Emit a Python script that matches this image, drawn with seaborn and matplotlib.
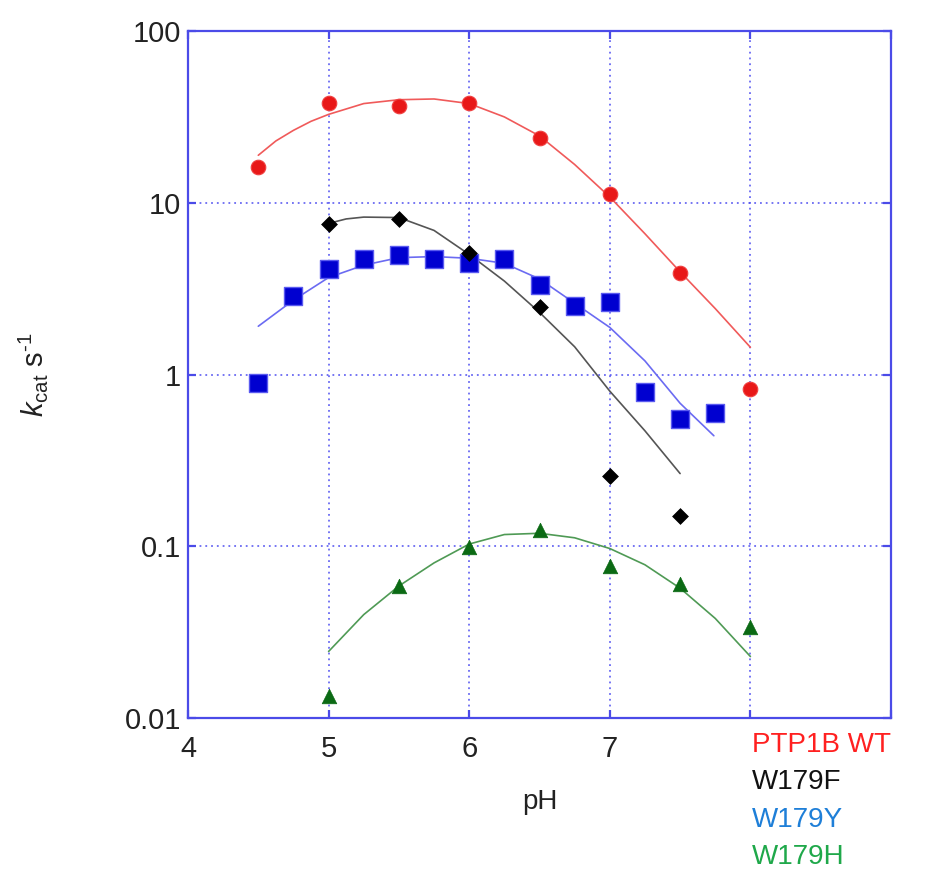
import matplotlib
matplotlib.use("Agg")
import matplotlib.pyplot as plt
import matplotlib.ticker as mticker
import seaborn as sns
import pandas as pd

# ---- data ----
ph_wt = [4.5, 5.0, 5.5, 6.0, 6.5, 7.0, 7.5, 8.0]
kcat_wt = [16.1, 38.1, 36.7, 38.3, 23.9, 11.2, 3.9, 0.82]

ph_f = [5.0, 5.5, 6.0, 6.5, 7.0, 7.5]
kcat_f = [7.55, 8.0, 5.1, 2.48, 0.256, 0.151]

ph_y = [4.5, 4.75, 5.0, 5.25, 5.5, 5.75, 6.0, 6.25, 6.5, 6.75, 7.0, 7.25, 7.5, 7.75]
kcat_y = [0.89, 2.86, 4.14, 4.70, 4.98, 4.70, 4.43, 4.72, 3.31, 2.52, 2.63, 0.79, 0.55, 0.60]

ph_h = [5.0, 5.5, 6.0, 6.5, 7.0, 7.5, 8.0]
kcat_h = [0.0134, 0.0587, 0.099, 0.124, 0.077, 0.060, 0.034]

# fitted curves
fit_wt_ph = [4.5, 4.625, 4.75, 4.875, 5.0, 5.25, 5.5, 5.75, 6.0, 6.25, 6.5, 6.75, 7.0, 7.25, 7.5, 7.75, 8.0]
fit_wt = [18.9, 22.9, 26.4, 29.8, 32.7, 37.8, 39.8, 40.2, 37.8, 31.6, 24.5, 16.7, 10.8, 6.6, 3.96, 2.42, 1.44]

fit_f_ph = [5.0, 5.125, 5.25, 5.5, 5.75, 6.0, 6.25, 6.5, 6.75, 7.0, 7.25, 7.5]
fit_f = [7.58, 8.05, 8.25, 8.2, 6.9, 5.0, 3.5, 2.3, 1.45, 0.80, 0.47, 0.265]

fit_y_ph = [4.5, 4.75, 5.0, 5.25, 5.5, 5.75, 6.0, 6.25, 6.5, 6.75, 7.0, 7.25, 7.5, 7.74]
fit_y = [1.91, 2.71, 3.67, 4.33, 4.79, 4.86, 4.75, 4.44, 3.6, 2.6, 1.88, 1.2, 0.68, 0.44]

fit_h_ph = [5.0, 5.25, 5.5, 5.75, 6.0, 6.25, 6.5, 6.75, 7.0, 7.25, 7.5, 7.75, 8.0]
fit_h = [0.0244, 0.040, 0.0587, 0.080, 0.103, 0.117, 0.119, 0.112, 0.097, 0.078, 0.057, 0.038, 0.0228]

series_names = ["PTP1B WT", "W179F", "W179Y", "W179H"]
label_colors = ["#ff2020", "#111111", "#1e7fd8", "#1fa84a"]

x_ticks = [4, 5, 6, 7, 8, 9]
x_tick_labels = ["4", "5", "6", "7", "", ""]
y_ticks = [0.01, 0.1, 1, 10, 100]
y_tick_labels = ["0.01", "0.1", "1", "10", "100"]

# ---- style ----
sns.set_theme(style="white")
plt.rcParams["font.family"] = ["Liberation Sans", "DejaVu Sans"]
plt.rcParams["mathtext.fontset"] = "custom"
plt.rcParams["mathtext.rm"] = "Liberation Sans"
plt.rcParams["mathtext.it"] = "Liberation Sans:italic"

axis_blue = "#4b4be8"
grid_blue = "#5050f0"

fig = plt.figure(figsize=(9.25, 8.82), dpi=100)
ax = fig.add_axes([188 / 925, 1 - 718 / 882, (891 - 188) / 925, (718 - 31) / 882])

# grid
ax.set_yscale("log")
ax.set_xlim(4, 9)
ax.set_ylim(0.01, 100)
for xv in [5, 6, 7, 8]:
    ax.axvline(xv, color=grid_blue, lw=1.3, ls=(0, (1, 2.2)), alpha=0.85, zorder=0)
for yv in [0.1, 1, 10]:
    ax.axhline(yv, color=grid_blue, lw=1.3, ls=(0, (1, 2.2)), alpha=0.85, zorder=0)

# curves
curves = [
    (fit_wt_ph, fit_wt, "#f05a5a"),
    (fit_f_ph, fit_f, "#555555"),
    (fit_y_ph, fit_y, "#6b6bf2"),
    (fit_h_ph, fit_h, "#4f9a55"),
]
for xs, ys, c in curves:
    sns.lineplot(x=xs, y=ys, ax=ax, color=c, lw=1.2, estimator=None, sort=True, zorder=2)

# points
sns.scatterplot(x=ph_wt, y=kcat_wt, ax=ax, marker="o", s=110, color="#e81818",
                edgecolor="#f04040", linewidth=0.8, zorder=4)
sns.scatterplot(x=ph_y, y=kcat_y, ax=ax, marker="s", s=170, color="#0000d0",
                edgecolor="#5a5af0", linewidth=1.0, zorder=3)
sns.scatterplot(x=ph_f, y=kcat_f, ax=ax, marker="D", s=65, color="#000000",
                edgecolor="#000000", linewidth=0.5, zorder=5)
sns.scatterplot(x=ph_h, y=kcat_h, ax=ax, marker="^", s=110, color="#0b6a14",
                edgecolor="#0b6a14", linewidth=0.5, zorder=4)

# axes styling
for sp in ax.spines.values():
    sp.set_color(axis_blue)
    sp.set_linewidth(1.6)
    sp.set_visible(True)

ax.set_xticks(x_ticks)
ax.set_xticklabels(x_tick_labels)
ax.yaxis.set_major_locator(mticker.FixedLocator(y_ticks))
ax.yaxis.set_minor_locator(mticker.NullLocator())
ax.set_yticklabels(y_tick_labels)
ax.tick_params(axis="both", which="major", direction="in", length=6, width=1.6,
               color=axis_blue, labelsize=21, labelcolor="#222222",
               top=True, right=True, bottom=True, left=True)
ax.tick_params(axis="x", pad=12)
ax.tick_params(axis="y", pad=5)

ax.set_xlabel("pH", fontsize=20, color="#222222", labelpad=19)
ax.set_ylabel(r"$k_{\mathrm{cat}}$ s$^{\text{-1}}$", fontsize=21, color="#222222")
ax.yaxis.set_label_coords(-0.197, 0.50)

# legend-like colored labels
y_pos = [745, 782, 820, 857]
for name, c, yp in zip(series_names, label_colors, y_pos):
    fig.text(752 / 925, 1 - yp / 882, name, color=c, fontsize=20, va="center", ha="left")

fig.savefig("out.png", dpi=100)
